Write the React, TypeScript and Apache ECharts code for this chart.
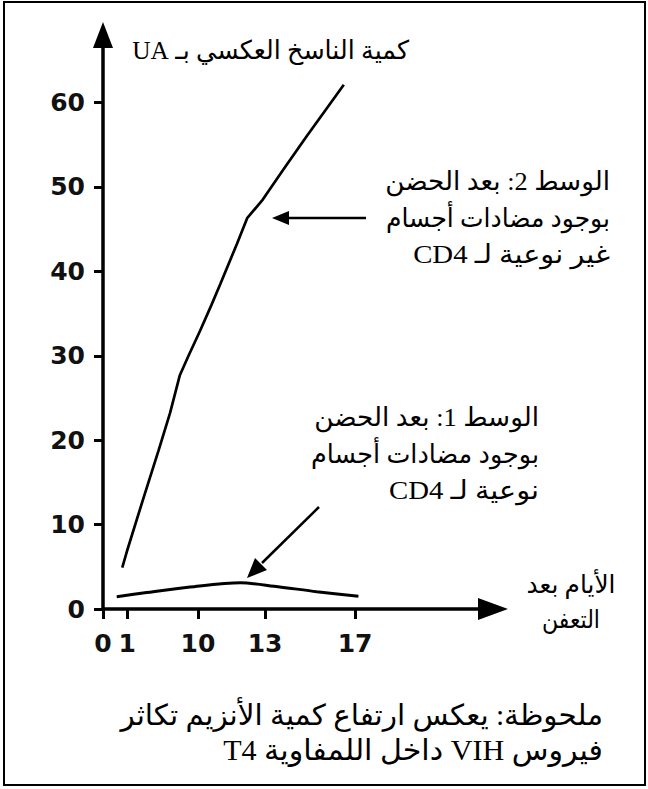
import React, { useEffect, useRef } from 'react';
import * as echarts from 'echarts';

// X axis: days after infection (the drawn axis is not linear, so tick days are mapped to axis positions)
const xTickDays = [0, 1, 10, 13, 17];
const xTickLabels = ['0', '1', '10', '13', '17'];
const xTickPos = [0, 1.07, 4.22, 7.2, 11.2];

// Y axis: reverse transcriptase quantity (UA)
const yTicks = [0, 10, 20, 30, 40, 50, 60];

// Medium 2: non-specific antibodies
const medium2Days = [0.8, 1.0, 3.1, 5.0, 6.45, 7.7, 8.8, 10.1, 10.6, 11.0, 11.75, 12.2, 12.9, 13.8, 14.85, 16.5];
const medium2Values = [4.9, 6.9, 13.2, 18.8, 23.2, 27.7, 30, 33, 36, 38.5, 43.3, 46.3, 48.5, 52, 56, 62.1];

// Medium 1: CD4-specific antibodies
const medium1Days = [0.57, 3.5, 9.0, 11.9, 13.4, 15.3, 17.15];
const medium1Values = [1.45, 1.95, 2.6, 3.1, 2.7, 2.05, 1.5];

const yTitle = 'كمية الناسخ العكسي بـ UA';
const medium2Lines = ['الوسط 2: بعد الحضن', 'بوجود مضادات أجسام', 'غير نوعية لـ CD4'];
const medium1Lines = ['الوسط 1: بعد الحضن', 'بوجود مضادات أجسام', 'نوعية لـ CD4'];
const xTitleLines = ['الأيام بعد', 'التعفن'];
const noteLines = ['ملحوظة: يعكس ارتفاع كمية الأنزيم تكاثر', 'فيروس VIH داخل اللمفاوية T4'];

function dayToPos(d: number): number {
  const n = xTickDays.length;
  for (let i = 0; i < n - 1; i++) {
    if (d <= xTickDays[i + 1] || i === n - 2) {
      const t = (d - xTickDays[i]) / (xTickDays[i + 1] - xTickDays[i]);
      return xTickPos[i] + t * (xTickPos[i + 1] - xTickPos[i]);
    }
  }
  return d;
}

const rtl = (s: string) => '\u202B' + s + '\u202C';
const AR_FONT = "'Liberation Serif', 'DejaVu Sans', serif";
const NUM_FONT = "'DejaVu Sans', 'Liberation Sans', Arial, sans-serif";

let measureCtx: CanvasRenderingContext2D | null = null;
function measure(s: string, size: number): number {
  if (!measureCtx) measureCtx = document.createElement('canvas').getContext('2d');
  if (!measureCtx) return 0;
  measureCtx.font = `${size}px ${AR_FONT}`;
  return measureCtx.measureText(s).width;
}

// width: target rendered width in px (text is stretched to fit, as in the source image)
function textEl(s: string, x: number, y: number, align: string, size: number, width?: number) {
  let sx = 1;
  if (width) {
    const w = measure(s, size);
    if (w > 0) sx = width / w;
  }
  return {
    type: 'text',
    x,
    y,
    scaleX: sx,
    style: {
      text: rtl(s),
      fill: '#000',
      fontSize: size,
      fontFamily: AR_FONT,
      align,
      textAlign: align,
      verticalAlign: 'middle',
      textVerticalAlign: 'middle',
    },
  };
}

export default function App() {
  const ref = useRef<HTMLDivElement>(null);
  useEffect(() => {
    if (!ref.current) return;
    const chart = echarts.init(ref.current, null, { renderer: 'svg' });

    const m2 = medium2Days.map((d, i) => [dayToPos(d), medium2Values[i]]);
    const m1 = medium1Days.map((d, i) => [dayToPos(d), medium1Values[i]]);

    const m2W = [225, 224, 197];
    const m1W = [225, 228, 150];
    const xtW = [89, 58];
    const noteW = [483, 380];

    const graphics: any[] = [
      {
        type: 'rect',
        shape: { x: 4, y: 2, width: 641, height: 783 },
        style: { fill: 'none', stroke: '#000', lineWidth: 2 },
      },
      textEl(yTitle, 409, 50, 'right', 26, 277),
      ...medium2Lines.map((s, i) => textEl(s, 610, 182 + i * 36, 'right', 26, m2W[i])),
      ...medium1Lines.map((s, i) => textEl(s, 539, 418 + i * 36, 'right', 26, m1W[i])),
      ...xTitleLines.map((s, i) => textEl(s, 571, 584 + i * 36, 'center', 25, xtW[i])),
      ...noteLines.map((s, i) => textEl(s, 603, 715 + i * 35, 'right', 29, noteW[i])),
      // arrow to medium 2 curve
      {
        type: 'line',
        shape: { x1: 366, y1: 218, x2: 286, y2: 218 },
        style: { stroke: '#000', lineWidth: 2.5 },
      },
      {
        type: 'polygon',
        shape: { points: [[272, 218], [289, 211], [289, 225]] },
        style: { fill: '#000' },
      },
      // arrow to medium 1 curve
      {
        type: 'line',
        shape: { x1: 319, y1: 507, x2: 262, y2: 563 },
        style: { stroke: '#000', lineWidth: 2.5 },
      },
      {
        type: 'polygon',
        shape: { points: [[247, 578], [267, 570], [255, 558]] },
        style: { fill: '#000' },
      },
    ];

    const labelCommon = {
      fontSize: 25,
      fontWeight: 'bold',
      fontFamily: NUM_FONT,
      color: '#111',
    };

    chart.setOption({
      animation: false,
      backgroundColor: '#fff',
      grid: { left: 103, top: 35, width: 390, height: 574, containLabel: false },
      xAxis: {
        type: 'value',
        min: 0,
        max: 17.33,
        splitLine: { show: false },
        axisLine: {
          show: true,
          onZero: false,
          symbol: ['none', 'triangle'],
          symbolSize: [22, 30],
          lineStyle: { color: '#000', width: 3.5 },
        },
        axisTick: {
          show: true,
          customValues: xTickPos,
          length: 10,
          lineStyle: { color: '#000', width: 3 },
        },
        axisLabel: {
          ...labelCommon,
          customValues: xTickPos,
          margin: 22,
          formatter: (v: number) => {
            let best = 0;
            for (let i = 0; i < xTickPos.length; i++) {
              if (Math.abs(xTickPos[i] - v) < Math.abs(xTickPos[best] - v)) best = i;
            }
            return xTickLabels[best];
          },
        },
      },
      yAxis: {
        type: 'value',
        min: 0,
        max: 68,
        interval: 10,
        splitLine: { show: false },
        axisLine: {
          show: true,
          onZero: false,
          symbol: ['none', 'triangle'],
          symbolSize: [20, 26],
          lineStyle: { color: '#000', width: 3.5 },
        },
        axisTick: {
          show: true,
          customValues: yTicks,
          length: 9,
          lineStyle: { color: '#000', width: 3 },
        },
        axisLabel: {
          ...labelCommon,
          customValues: yTicks,
          margin: 18,
        },
      },
      series: [
        {
          type: 'line',
          name: 'medium2',
          data: m2,
          showSymbol: false,
          symbol: 'none',
          lineStyle: { color: '#000', width: 2.7 },
        },
        {
          type: 'line',
          name: 'medium1',
          data: m1,
          showSymbol: false,
          symbol: 'none',
          smooth: 0.3,
          lineStyle: { color: '#000', width: 3 },
        },
      ],
      graphic: graphics,
    });
    return () => chart.dispose();
  }, []);

  return (
    <div
      ref={ref}
      style={{ position: 'absolute', left: 0, top: 0, width: 648, height: 789, background: '#fff' }}
    />
  );
}
